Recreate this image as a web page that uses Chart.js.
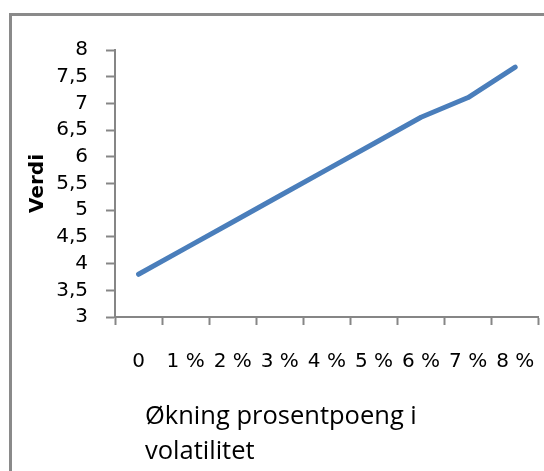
<!DOCTYPE html>
<html>
<head>
<meta charset="utf-8">
<script src="https://cdn.jsdelivr.net/npm/chart.js@4/dist/chart.umd.min.js"></script>
<style>
  html, body { margin: 0; padding: 0; background: #ffffff; overflow: hidden; width: 544px; height: 471px; }
  #frame { position: absolute; left: 9px; top: 13px; width: 600px; height: 520px; border: 3px solid #8a8a8a; box-sizing: border-box; }
  #wrap { position: absolute; left: 0; top: 0; width: 560px; height: 471px; }
  canvas { display: block; }
</style>
</head>
<body>
<div id="frame"></div>
<div id="wrap"><canvas id="c" width="560" height="471"></canvas></div>
<script>
// Category labels: increase in volatility (percentage points)
const categories = ['0', '1 %', '2 %', '3 %', '4 %', '5 %', '6 %', '7 %', '8 %'];
// Value for each volatility step
const values = [3.80, 4.29, 4.78, 5.27, 5.76, 6.25, 6.74, 7.11, 7.68];
// Value axis range
const yMin = 3;
const yMax = 8;
const yStep = 0.5;
// Axis titles
const yTitle = 'Verdi';
const xTitleLines = ['Økning prosentpoeng i', 'volatilitet'];

const axisGrey = '#868686';

// Left-aligned, two-line category axis title below the tick labels
const xTitlePlugin = {
  id: 'xTitle',
  afterDraw(chart) {
    const ctx = chart.ctx;
    const x = chart.chartArea.left + 30;
    ctx.save();
    ctx.font = '25.5px "Open Sans"';
    ctx.fillStyle = '#000000';
    ctx.textAlign = 'left';
    ctx.textBaseline = 'alphabetic';
    xTitleLines.forEach((line, i) => {
      ctx.fillText(line, x, chart.chartArea.bottom + 107 + i * 35);
    });
    ctx.restore();
  }
};

new Chart(document.getElementById('c'), {
  type: 'line',
  data: {
    labels: categories,
    datasets: [{
      data: values,
      borderColor: '#4a7ebb',
      borderWidth: 5,
      borderCapStyle: 'round',
      borderJoinStyle: 'round',
      pointRadius: 0,
      pointHoverRadius: 0,
      tension: 0,
      fill: false
    }]
  },
  options: {
    responsive: false,
    animation: false,
    devicePixelRatio: 1,
    layout: { padding: { top: 50, right: 14, left: 0, bottom: 0 } },
    plugins: {
      legend: { display: false },
      tooltip: { enabled: false }
    },
    scales: {
      x: {
        type: 'category',
        offset: true,
        grid: {
          offset: true,
          drawOnChartArea: false,
          drawTicks: true,
          tickLength: 8,
          tickWidth: 2,
          tickColor: axisGrey
        },
        border: { display: true, color: axisGrey, width: 2 },
        ticks: {
          color: '#000000',
          font: { family: '"DejaVu Sans"', size: 20 },
          padding: 25,
          maxRotation: 0,
          autoSkip: false
        },
        afterFit(scale) { scale.height = 154; }
      },
      y: {
        min: yMin,
        max: yMax,
        grid: {
          drawOnChartArea: false,
          drawTicks: true,
          tickLength: 9,
          tickWidth: 2,
          tickColor: axisGrey
        },
        border: { display: true, color: axisGrey, width: 2 },
        ticks: {
          stepSize: yStep,
          autoSkip: false,
          color: '#000000',
          font: { family: '"DejaVu Sans"', size: 20 },
          padding: 18,
          callback: (v) => String(v).replace('.', ',')
        },
        title: {
          display: true,
          text: yTitle,
          color: '#000000',
          font: { family: '"DejaVu Sans"', size: 20, weight: 'bold' },
          padding: { top: 26, bottom: 0 }
        },
        afterFit(scale) { scale.width = 115; }
      }
    }
  },
  plugins: [xTitlePlugin]
});
</script>
</body>
</html>
